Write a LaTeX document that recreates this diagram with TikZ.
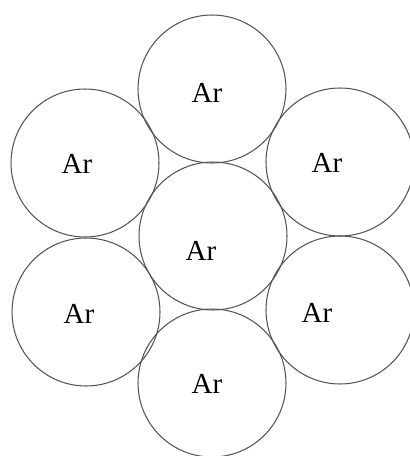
\documentclass[tikz,border=0pt]{standalone}
\usepackage{fontspec}
\setmainfont{Liberation Serif}
\usetikzlibrary{positioning}
\definecolor{rimgray}{RGB}{85,85,85}

\begin{document}
\begin{tikzpicture}[x=0.02cm,y=-0.02cm,
    atom/.style={circle,draw=rimgray,line width=0.6pt,minimum size=2.96cm,inner sep=0pt},
    sym/.style={inner sep=0pt,font=\fontsize{16.5}{18}\selectfont}]
  \useasboundingbox (0,0) rectangle (409,456);
  % argon atoms, close packed
  \node[atom] (top) at (212,89) {};
  \node[atom] (mid) at (213,236) {};
  \node[atom] (bot) at (212,383) {};
  \node[atom] (ul) at (85,163) {};
  \node[atom] (ur) at (340,162) {};
  \node[atom] (ll) at (86,312) {};
  \node[atom] (lr) at (340,310) {};
  % element symbols
  \node[sym] (ttop) at (207,93) {Ar};
  \node[sym] (tmid) at (201,251) {Ar};
  \node[sym] (tbot) at (207,384) {Ar};
  \node[sym] (tul) at (77,164) {Ar};
  \node[sym] (tur) at (327,163) {Ar};
  \node[sym] (tll) at (79,314) {Ar};
  \node[sym] (tlr) at (317,313) {Ar};
\end{tikzpicture}
\end{document}
